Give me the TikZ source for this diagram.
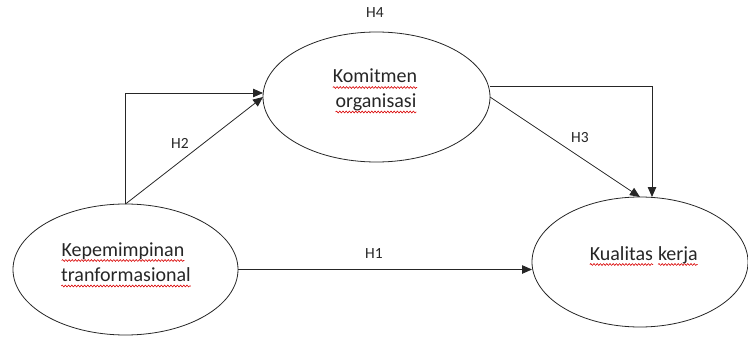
\documentclass[tikz,border=0pt]{standalone}
\usepackage{fontspec}
\setmainfont{Carlito}
\usetikzlibrary{shapes.geometric,arrows.meta,decorations.pathmorphing}
\begin{document}
\begin{tikzpicture}[x=1pt,y=-1pt,
  ell/.style={draw=black!85,line width=0.8pt,ellipse,inner sep=0pt,outer sep=0pt},
  txt/.style={inner sep=0pt,outer sep=0pt,text=black!85,font=\fontsize{20}{24}\selectfont,anchor=base},
  hlab/.style={inner sep=0pt,text=black!85,font=\fontsize{15.5}{18}\selectfont},
  conn/.style={draw=black!85,line width=0.8pt,-{Triangle[length=10pt,width=8.5pt]}},
  squig/.style={draw=red!85!black,line width=0.6pt,decorate,decoration={snake,amplitude=0.9pt,segment length=3.2pt}}]
\useasboundingbox (0,0) rectangle (748,337);
% ellipses
\node[ell,minimum width=225pt,minimum height=131pt] (kp) at (125.5,269.5) {};
\node[ell,minimum width=227pt,minimum height=130pt] (ko) at (376.5,97) {};
\node[ell,minimum width=216pt,minimum height=130pt] (kq) at (640,262) {};
% texts
\node[txt] (t1) at (123,256) {Kepemimpinan};
\node[txt] (t2) at (126,281.5) {tranformasional};
\node[txt] (t3) at (375,83) {Komitmen};
\node[txt] (t4) at (376,107.5) {organisasi};
\node[txt,anchor=base east] (t5) at (653,260) {Kualitas};
\node[txt,anchor=base west] (t6) at (658,260) {kerja};
% spell-check squiggles
\foreach \t in {t1,t2,t3,t4,t5,t6}{
  \draw[squig] ([yshift=-4.5pt]\t.base west) -- ([yshift=-4.5pt]\t.base east);
}
% connectors
\draw[conn] (kp.east) -- (kp.east -| kq.west);
\draw[conn] (kp.north) -- (ko.west);
\draw[conn] (kp.north) |- ([yshift=4pt]ko.west);
\draw[conn] (ko.east) -- (kq.north);
\draw[conn] ([yshift=11pt]ko.east) -| ([xshift=12pt]kq.north);
% labels
\node[hlab] (h1) at (374,253.5) {H1};
\node[hlab] (h2) at (180,143.5) {H2};
\node[hlab] (h3) at (580,138) {H3};
\node[hlab] (h4) at (375,13) {H4};
\end{tikzpicture}
\end{document}
